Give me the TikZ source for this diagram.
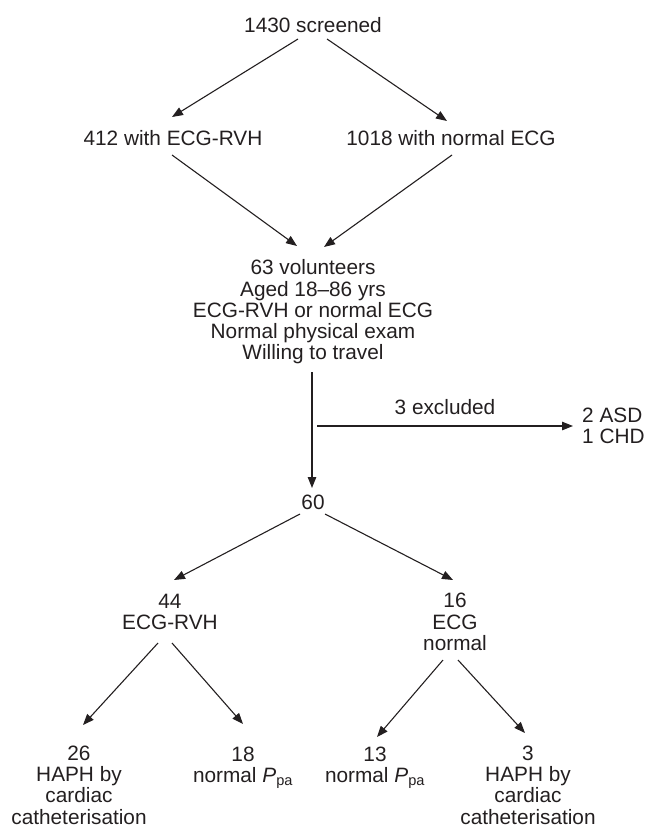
\documentclass[tikz,border=0pt]{standalone}
\usepackage{fontspec}
\setmainfont{Liberation Sans}
\usetikzlibrary{arrows.meta,calc}
\definecolor{ink}{HTML}{231F20}
\tikzset{
  txt/.style={align=center,inner sep=0pt,text=ink,font=\fontsize{20.8}{21.3}\selectfont},
  ar/.style={-{Triangle[length=11pt,width=8.5pt]},draw=ink,line width=1.1pt},
}

\begin{document}
\begin{tikzpicture}[x=1pt,y=-1pt]
  \useasboundingbox (0,0) rectangle (646,829);
  \node[txt] (scr) at (313,25) {1430 screened};
  \node[txt] (rvh) at (173,138) {412 with ECG-RVH};
  \node[txt] (nrm) at (451,138) {1018 with normal ECG};
  \node[txt] (vol) at (313,312) {63 volunteers\\Aged 18--86 yrs\\ECG-RVH or normal ECG\\Normal physical exam\\Willing to travel};
  \node[txt] (tot) at (313,502) {60};
  \node[txt,align=left,anchor=west] (exc) at (582,425.5) {2 ASD\\1 CHD};
  \node[txt] (grv) at (170,612) {44\\ECG-RVH};
  \node[txt] (gnm) at (455,622) {16\\ECG\\normal};
  \node[txt] (h1) at (79,785) {26\\HAPH by\\cardiac\\catheterisation};
  \node[txt] (n1) at (243,768) {18\\normal \textit{P}\textsubscript{pa}};
  \node[txt] (n2) at (375,768) {13\\normal \textit{P}\textsubscript{pa}};
  \node[txt] (h2) at (528,785) {3\\HAPH by\\cardiac\\catheterisation};
  \coordinate (brk) at (317,426);
  % screening
  \draw[ar] ($(scr)+(-15,14)$) -- ($(rvh)+(-1,-21)$);
  \draw[ar] ($(scr)+(14,14)$) -- ($(nrm)+(-4,-17)$);
  \draw[ar] ($(rvh)+(-1,17)$) -- ($(vol)+(-16,-66)$);
  \draw[ar] ($(nrm)+(1,17)$) -- ($(vol)+(11,-65)$);
  \draw[ar] ($(vol)+(-1,60)$) -- ($(tot)+(-1,-14)$);
  \draw[ar] (brk) -- node[txt,above=11pt]{3 excluded} ($(exc.west)+(-9,0.5)$);
  % groups
  \draw[ar] ($(tot)+(-13,12)$) -- ($(grv)+(4,-32)$);
  \draw[ar] ($(tot)+(12,12)$) -- ($(gnm)+(-2,-42)$);
  \draw[ar] ($(grv)+(-12,31)$) -- ($(h1)+(4,-60)$);
  \draw[ar] ($(grv)+(2,31)$) -- ($(n1)+(0,-44)$);
  \draw[ar] ($(gnm)+(-12,38)$) -- ($(n2)+(2,-31)$);
  \draw[ar] ($(gnm)+(3,38)$) -- ($(h2)+(-3,-52)$);
\end{tikzpicture}
\end{document}
